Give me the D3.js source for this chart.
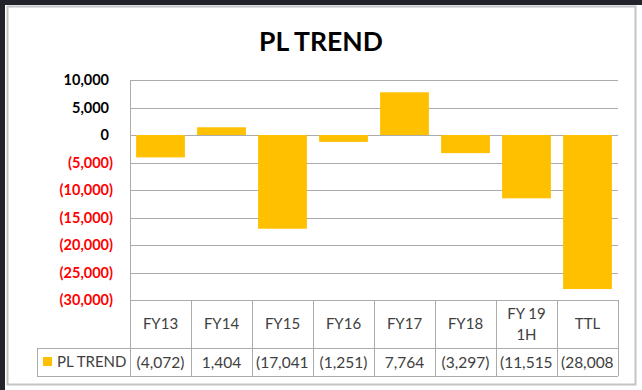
<!DOCTYPE html>
<html>
<head>
<meta charset="utf-8">
<style>
  body { margin: 0; background: #23232b; }
  svg { display: block; }
  text { font-family: Lato, "Open Sans", sans-serif; }
</style>
</head>
<body>
<script src="https://cdn.jsdelivr.net/npm/d3@7"></script>
<script>

// chart data
var categories = ["FY13", "FY14", "FY15", "FY16", "FY17", "FY18", "FY 19\n1H", "TTL"];
var values = [-4072, 1404, -17041, -1251, 7764, -3297, -11515, -28008];
var yTicks = [10000, 5000, 0, -5000, -10000, -15000, -20000, -25000, -30000];
var seriesName = "PL TREND";

var W = 642, H = 390;
var plot = {l: 130, r: 618, t: 80, b: 300};
var rowTop = 348, rowBot = 376, legendLeft = 37;
var gold = "#FFC000", grid = "#ABABAB", txt = "#404040";

var svg = d3.select("body").append("svg")
    .attr("width", W)
    .attr("height", H);

// page + chart frame
svg.append("rect").attr("x", 5).attr("y", 5).attr("width", W - 5).attr("height", H - 5).attr("fill", "#fff");
svg.append("rect")
    .attr("x", 7.5).attr("y", 6.5)
    .attr("width", 628).attr("height", 378)
    .attr("fill", "#fff")
    .attr("stroke", "#C4C4C4")
    .attr("stroke-width", 2);

// title
svg.append("text")
    .attr("x", 321)
    .attr("y", 51)
    .attr("text-anchor", "middle")
    .style("font-size", "26.5px")
    .style("font-weight", "bold")
    .attr("fill", "#000")
    .text("PL TREND");

var x = d3.scaleBand()
    .domain(categories)
    .range([plot.l, plot.r])
    .paddingInner(0.2)
    .paddingOuter(0.1);

var y = d3.scaleLinear()
    .domain([-30000, 10000])
    .range([plot.b, plot.t]);

var fmt = d3.format(",");

// gridlines
svg.append("g").selectAll("line")
    .data(yTicks)
  .enter().append("line")
    .attr("x1", plot.l).attr("x2", plot.r)
    .attr("y1", function(d) { return Math.round(y(d)) + 0.5; })
    .attr("y2", function(d) { return Math.round(y(d)) + 0.5; })
    .attr("stroke", grid);

// y axis labels (excel style: negatives red in parens)
var yl = svg.append("g").selectAll("text")
    .data(yTicks)
  .enter().append("text")
    .attr("x", 113)
    .attr("y", function(d) { return y(d); })
    .attr("dy", "0.36em")
    .attr("text-anchor", "end")
    .style("font-size", "14.5px")
    .style("font-weight", "bold")
    .attr("fill", function(d) { return d < 0 ? "#FF0000" : "#000"; });
yl.append("tspan").text(function(d) { return d < 0 ? "(" + fmt(-d) + ")" : fmt(d); });
yl.filter(function(d) { return d >= 0; })
  .append("tspan").attr("fill-opacity", 0).text(")");

// bars
svg.append("g").selectAll("rect")
    .data(values)
  .enter().append("rect")
    .attr("x", function(d, i) { return x(categories[i]); })
    .attr("width", x.bandwidth())
    .attr("y", function(d) { return y(Math.max(0, d)); })
    .attr("height", function(d) { return Math.abs(y(d) - y(0)); })
    .attr("fill", gold);

// y axis line
svg.append("line")
    .attr("x1", plot.l + 0.5).attr("x2", plot.l + 0.5)
    .attr("y1", plot.t).attr("y2", plot.b)
    .attr("stroke", grid);

// data table
var step = x.step();
var table = svg.append("g");

table.selectAll("line.v")
    .data(d3.range(categories.length + 1))
  .enter().append("line")
    .attr("x1", function(i) { return Math.round(plot.l + i * step) + 0.5; })
    .attr("x2", function(i) { return Math.round(plot.l + i * step) + 0.5; })
    .attr("y1", plot.b).attr("y2", rowBot)
    .attr("stroke", grid);

[rowTop, rowBot].forEach(function(yy) {
  table.append("line")
      .attr("x1", legendLeft).attr("x2", plot.r)
      .attr("y1", yy + 0.5).attr("y2", yy + 0.5)
      .attr("stroke", grid);
});
table.append("line")
    .attr("x1", legendLeft + 0.5).attr("x2", legendLeft + 0.5)
    .attr("y1", rowTop).attr("y2", rowBot)
    .attr("stroke", grid);

// header cells
var hdr = table.selectAll("text.hdr")
    .data(categories)
  .enter().append("text")
    .attr("class", "hdr")
    .attr("text-anchor", "middle")
    .style("font-size", "15px")
    .attr("fill", txt);
hdr.each(function(d) {
  var lines = d.split("\n");
  var cx = plot.l + categories.indexOf(d) * step + step / 2;
  var cy = (plot.b + rowTop) / 2;
  var lh = 21;
  d3.select(this).selectAll("tspan")
      .data(lines)
    .enter().append("tspan")
      .attr("x", cx)
      .attr("y", function(l, j) { return cy + (j - (lines.length - 1) / 2) * lh; })
      .attr("dy", "0.36em")
      .text(function(l) { return l; });
});

// value cells, clipped to the cell like excel
var defs = svg.append("defs");
values.forEach(function(v, i) {
  var x0 = plot.l + i * step;
  defs.append("clipPath").attr("id", "cell" + i)
    .append("rect")
      .attr("x", x0 + 1).attr("y", rowTop)
      .attr("width", step - 6).attr("height", rowBot - rowTop);
  var t = table.append("text")
      .attr("clip-path", "url(#cell" + i + ")")
      .attr("y", (rowTop + rowBot) / 2)
      .attr("dy", "0.36em")
      .style("font-size", "15.5px")
      .attr("fill", txt)
      .text(v < 0 ? "(" + fmt(-v) + ")" : fmt(v));
  var w = t.node().getComputedTextLength();
  if (w > step - 8) {
    t.attr("x", x0 + 4).attr("text-anchor", "start");
  } else {
    t.attr("x", x0 + step / 2).attr("text-anchor", "middle");
  }
});

// legend key
table.append("rect")
    .attr("x", 43).attr("y", 357)
    .attr("width", 9).attr("height", 9)
    .attr("fill", gold);
table.append("text")
    .attr("x", 57)
    .attr("y", (rowTop + rowBot) / 2)
    .attr("dy", "0.36em")
    .style("font-size", "15px")
    .attr("fill", txt)
    .text(seriesName);

</script>
</body>
</html>
